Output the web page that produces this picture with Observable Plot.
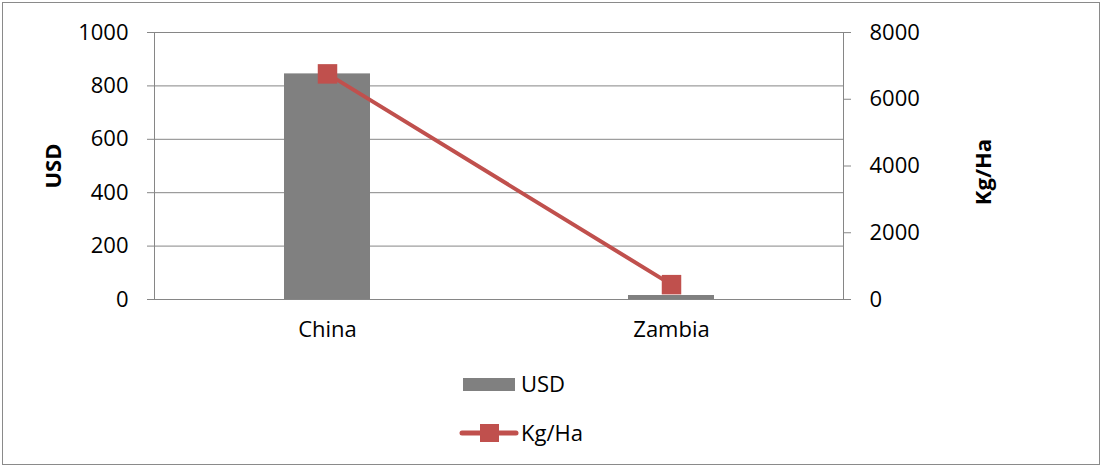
<!DOCTYPE html>
<html><head><meta charset="utf-8">
<script src="https://cdn.jsdelivr.net/npm/d3@7"></script>
<script src="https://cdn.jsdelivr.net/npm/@observablehq/plot@0.6"></script>
<style>
body{margin:0;background:#fff;font-family:"Open Sans",sans-serif;}
#wrap{position:relative;width:1102px;height:467px;overflow:hidden;background:#fff}
#border{position:absolute;left:2px;top:2px;width:1098px;height:463px;border:1px solid #8a8a8a;box-sizing:border-box;pointer-events:none}
#chart{position:absolute;left:0;top:0}
.lg{position:absolute;font-size:22px;line-height:30px;color:#000;white-space:nowrap}
</style></head>
<body>
<div id="wrap">
  <div id="border"></div>
  <div id="chart"></div>
  <div id="legend"></div>
</div>
<script>
const countries = ["China", "Zambia"];
const usdValues = [845, 15];
const kgHaValues = [6760, 445];
const usdTicks = [0, 200, 400, 600, 800, 1000];
const kgHaTicks = [0, 2000, 4000, 6000, 8000];
const seriesNames = ["USD", "Kg/Ha"];

const usdMax = d3.max(usdTicks), kgMax = d3.max(kgHaTicks);
const k = kgMax / usdMax; // right axis maps onto left scale
const rows = countries.map((c, i) => ({country: c, usd: usdValues[i], kg: kgHaValues[i]}));

const grey = "#868686", barFill = "#808080", red = "#C0504D";

const chart = Plot.plot({
  width: 1102, height: 345,
  marginLeft: 154, marginRight: 259, marginTop: 32, marginBottom: 46,
  style: {fontFamily: "Open Sans", fontSize: "22px", color: "#000", background: "transparent", overflow: "visible"},
  x: {domain: countries, paddingInner: 0.75, paddingOuter: 0.375, label: null},
  y: {domain: [0, usdMax], label: null},
  marks: [
    Plot.gridY(usdTicks, {stroke: grey, strokeOpacity: 1, strokeWidth: 1}),
    Plot.frame({anchor: "left", stroke: grey, strokeWidth: 1}),
    Plot.frame({anchor: "right", stroke: grey, strokeWidth: 1}),
    Plot.barY(rows, {x: "country", y: "usd", fill: barFill}),
    Plot.line(rows, {x: "country", y: d => d.kg / k, stroke: red, strokeWidth: 4}),
    Plot.dot(rows, {x: "country", y: d => d.kg / k, symbol: "square", r: 11, fill: red, stroke: null}),
    Plot.axisY(usdTicks, {anchor: "left", tickSize: 7, tickPadding: 19, stroke: grey, tickFormat: d => String(d), label: null}),
    Plot.axisY(kgHaTicks.map(v => v / k), {anchor: "right", tickSize: 7, tickPadding: 19, stroke: grey, tickFormat: d => String(Math.round(d * k)), label: null}),
    Plot.axisX({tickSize: 0, tickPadding: 22, label: null}),
    Plot.text([seriesNames[0]], {frameAnchor: "left", dx: -101, dy: 0, rotate: -90, textAnchor: "middle", fontWeight: "bold", fontSize: 22, text: d => d}),
    Plot.text([seriesNames[1]], {frameAnchor: "right", dx: 140, dy: 6, rotate: -90, textAnchor: "middle", fontWeight: "bold", fontSize: 22, text: d => d})
  ]
});
document.getElementById("chart").appendChild(chart);

// legend
const legend = d3.select("#legend");
legend.append("div").style("position", "absolute").style("left", "463px").style("top", "378px")
  .style("width", "52px").style("height", "13px").style("background", barFill);
legend.append("div").attr("class", "lg").style("left", "521px").style("top", "368px").text(seriesNames[0]);
const ls = legend.append("svg").style("position", "absolute").style("left", "455px").style("top", "418px")
  .attr("width", 70).attr("height", 30);
ls.append("line").attr("x1", 7).attr("x2", 61).attr("y1", 15).attr("y2", 15)
  .attr("stroke", red).attr("stroke-width", 5).attr("stroke-linecap", "round");
ls.append("rect").attr("x", 25).attr("y", 6).attr("width", 19).attr("height", 18).attr("fill", red);
legend.append("div").attr("class", "lg").style("left", "521px").style("top", "417px").text(seriesNames[1]);
</script>
</body></html>
